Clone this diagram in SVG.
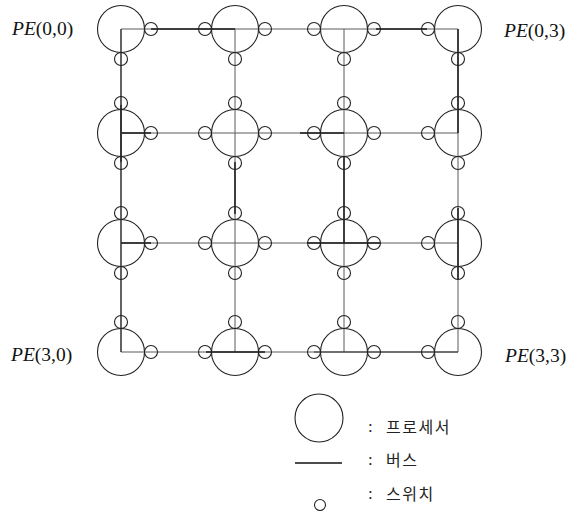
<svg xmlns="http://www.w3.org/2000/svg" width="581" height="511" viewBox="0 0 581 511">
<style>
.pe{fill:none;stroke:#222;stroke-width:1.1}
.sw{fill:none;stroke:#222;stroke-width:1.1}
.thin{stroke:#5a5a5a;stroke-width:1;fill:none}
.bus{stroke:#1a1a1a;stroke-width:1.5;fill:none}
.lbl{font-family:"Liberation Serif","Times New Roman",serif;font-size:19.5px;fill:#111}
.kr{font-family:"Noto Sans CJK KR",sans-serif;font-size:16px;fill:#222;letter-spacing:1.5px}
.col{font-family:"Liberation Serif",serif;font-size:17px;fill:#222}
</style>
<rect width="581" height="511" fill="#fff"/>
<g id="connectors">
<path class="thin" d="M121 29H458M121 133H458M121 243H458M121 352H458M121 29V352M235 29V352M344 29V352M458 29V352"/>
<path class="bus" d="M151 29H235M376 29H427M121 133H151M300 133H344M121 243H151M307 243H380M206 352H265M121 105V162M235 162V214M344 157V243M458 29V133M458 208V280"/>
<path d="M314 352H458M121 29V352" stroke="#333" stroke-width="1.2" fill="none"/>
</g>
<g id="pe00"><circle class="pe" cx="121" cy="29" r="23.5"/><circle class="sw" cx="151" cy="29" r="6.5"/><circle class="sw" cx="121" cy="59" r="6.5"/><text class="lbl" x="12" y="35"><tspan font-style="italic">PE</tspan>(0,0)</text></g>
<g id="pe01"><circle class="pe" cx="235" cy="29" r="23.5"/><circle class="sw" cx="205" cy="29" r="6.5"/><circle class="sw" cx="265" cy="29" r="6.5"/><circle class="sw" cx="235" cy="59" r="6.5"/></g>
<g id="pe02"><circle class="pe" cx="344" cy="29" r="23.5"/><circle class="sw" cx="314" cy="29" r="6.5"/><circle class="sw" cx="374" cy="29" r="6.5"/><circle class="sw" cx="344" cy="59" r="6.5"/></g>
<g id="pe03"><circle class="pe" cx="458" cy="29" r="23.5"/><circle class="sw" cx="428" cy="29" r="6.5"/><circle class="sw" cx="458" cy="59" r="6.5"/><text class="lbl" x="504" y="37"><tspan font-style="italic">PE</tspan>(0,3)</text></g>
<g id="pe10"><circle class="pe" cx="121" cy="133" r="23.5"/><circle class="sw" cx="121" cy="103" r="6.5"/><circle class="sw" cx="151" cy="133" r="6.5"/><circle class="sw" cx="121" cy="163" r="6.5"/></g>
<g id="pe11"><circle class="pe" cx="235" cy="133" r="23.5"/><circle class="sw" cx="235" cy="103" r="6.5"/><circle class="sw" cx="205" cy="133" r="6.5"/><circle class="sw" cx="265" cy="133" r="6.5"/><circle class="sw" cx="235" cy="163" r="6.5"/></g>
<g id="pe12"><circle class="pe" cx="344" cy="133" r="23.5"/><circle class="sw" cx="344" cy="103" r="6.5"/><circle class="sw" cx="314" cy="133" r="6.5"/><circle class="sw" cx="374" cy="133" r="6.5"/><circle class="sw" cx="344" cy="163" r="6.5"/></g>
<g id="pe13"><circle class="pe" cx="458" cy="133" r="23.5"/><circle class="sw" cx="458" cy="103" r="6.5"/><circle class="sw" cx="428" cy="133" r="6.5"/><circle class="sw" cx="458" cy="163" r="6.5"/></g>
<g id="pe20"><circle class="pe" cx="121" cy="243" r="23.5"/><circle class="sw" cx="121" cy="213" r="6.5"/><circle class="sw" cx="151" cy="243" r="6.5"/><circle class="sw" cx="121" cy="273" r="6.5"/></g>
<g id="pe21"><circle class="pe" cx="235" cy="243" r="23.5"/><circle class="sw" cx="235" cy="213" r="6.5"/><circle class="sw" cx="205" cy="243" r="6.5"/><circle class="sw" cx="265" cy="243" r="6.5"/><circle class="sw" cx="235" cy="273" r="6.5"/></g>
<g id="pe22"><circle class="pe" cx="344" cy="243" r="23.5"/><circle class="sw" cx="344" cy="213" r="6.5"/><circle class="sw" cx="314" cy="243" r="6.5"/><circle class="sw" cx="374" cy="243" r="6.5"/><circle class="sw" cx="344" cy="273" r="6.5"/></g>
<g id="pe23"><circle class="pe" cx="458" cy="243" r="23.5"/><circle class="sw" cx="458" cy="213" r="6.5"/><circle class="sw" cx="428" cy="243" r="6.5"/><circle class="sw" cx="458" cy="273" r="6.5"/></g>
<g id="pe30"><circle class="pe" cx="121" cy="352" r="23.5"/><circle class="sw" cx="121" cy="322" r="6.5"/><circle class="sw" cx="151" cy="352" r="6.5"/><text class="lbl" x="11" y="361"><tspan font-style="italic">PE</tspan>(3,0)</text></g>
<g id="pe31"><circle class="pe" cx="235" cy="352" r="23.5"/><circle class="sw" cx="235" cy="322" r="6.5"/><circle class="sw" cx="205" cy="352" r="6.5"/><circle class="sw" cx="265" cy="352" r="6.5"/></g>
<g id="pe32"><circle class="pe" cx="344" cy="352" r="23.5"/><circle class="sw" cx="344" cy="322" r="6.5"/><circle class="sw" cx="314" cy="352" r="6.5"/><circle class="sw" cx="374" cy="352" r="6.5"/></g>
<g id="pe33"><circle class="pe" cx="458" cy="352" r="23.5"/><circle class="sw" cx="458" cy="322" r="6.5"/><circle class="sw" cx="428" cy="352" r="6.5"/><text class="lbl" x="505" y="362"><tspan font-style="italic">PE</tspan>(3,3)</text></g>
<g id="legend">
<circle class="pe" cx="319" cy="418" r="24"/>
<text class="col" x="368" y="432">:</text><text class="kr" x="386" y="433">프로세서</text>
<line x1="295" y1="463" x2="342" y2="463" stroke="#111" stroke-width="1.5"/>
<text class="col" x="368" y="465">:</text><text class="kr" x="386" y="466">버스</text>
<circle class="sw" cx="320" cy="505" r="5.5"/>
<text class="col" x="368" y="499">:</text><text class="kr" x="386" y="500">스위치</text>
</g>
</svg>
